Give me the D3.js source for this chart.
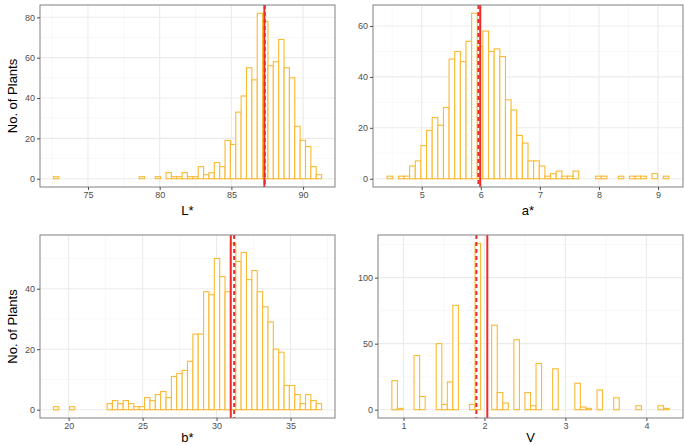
<!DOCTYPE html>
<html>
<head>
<meta charset="utf-8">
<script src="https://cdn.jsdelivr.net/npm/d3@7"></script>
<style>
  body { margin: 0; background: #fff; }
  text { font-family: "Liberation Sans", Arial, sans-serif; }
</style>
</head>
<body>
<svg id="chart" width="685" height="445"></svg>
<script>
// Histogram data, 50 bins per panel (start of first bin, bin width, counts)
var lStart = 72.59, lWidth = 0.374;
var lCounts = [1,0,0,0,0,0,0,0,0,0, 0,0,0,0,0,0,1,0,0,1, 0,3,1,1,3,1,1,6,2,3,
               8,6,19,17,33,41,55,49,82,78, 56,58,69,55,50,26,19,16,6,2];
var lTicksX = [75, 80, 85, 90];
var lTicksY = [0, 20, 40, 60, 80];
var lMean = 87.30, lMedian = 87.33;

var aStart = 4.414, aWidth = 0.0954;
var aCounts = [1,0,1,1,5,7,13,19,24,21, 28,47,50,46,54,65,52,58,50,51,
               48,31,27,17,14,7,7,5,1,2, 3,1,1,3,0,0,0,1,1,0, 0,1,0,1,1,1,0,2,0,1];
var aTicksX = [5, 6, 7, 8, 9];
var aTicksY = [0, 20, 40, 60];
var aMean = 5.99, aMedian = 5.96;

var bStart = 18.97, bWidth = 0.3626;
var bCounts = [1,0,0,1,0,0,0,0,0,0, 2,3,2,3,2,1,1,4,3,5, 6,4,11,12,13,16,25,25,39,38,
               50,44,39,55,49,52,43,46,39,34, 29,20,19,8,8,5,2,5,3,2];
var bTicksX = [20, 25, 30, 35];
var bTicksY = [0, 20, 40];
var bMean = 30.96, bMedian = 31.19;

var vStart = 0.856, vWidth = 0.0685;
var vCounts = [22,1,0,0,41,10,0,0,50,4, 21,79,0,0,4,126,0,0,64,13, 5,0,53,0,13,3,35,0,0,31,
               0,0,0,20,2,1,0,15,0,0, 9,0,0,0,3,0,0,0,3,1];
var vTicksX = [1, 2, 3, 4];
var vTicksY = [0, 50, 100];
var vMean = 2.035, vMedian = 1.90;

var panels = [
  { title: "L*", start: lStart, width: lWidth, counts: lCounts, tx: lTicksX, ty: lTicksY,
    mean: lMean, median: lMedian, box: [40, 335, 5, 187], ylab: true, titleY: 215 },
  { title: "a*", start: aStart, width: aWidth, counts: aCounts, tx: aTicksX, ty: aTicksY,
    mean: aMean, median: aMedian, box: [373, 683, 5, 187], ylab: false, titleY: 215 },
  { title: "b*", start: bStart, width: bWidth, counts: bCounts, tx: bTicksX, ty: bTicksY,
    mean: bMean, median: bMedian, box: [40, 335, 235, 418], ylab: true, titleY: 442 },
  { title: "V", start: vStart, width: vWidth, counts: vCounts, tx: vTicksX, ty: vTicksY,
    mean: vMean, median: vMedian, box: [378, 683, 235, 418], ylab: false, titleY: 442 }
];

var svg = d3.select("#chart");

function minorBreaks(ticks, domain) {
  var step = ticks[1] - ticks[0];
  var out = [];
  for (var t = ticks[0] - step / 2; t <= domain[1]; t += step) {
    if (t >= domain[0]) out.push(t);
  }
  return out;
}

function drawPanel(p) {
  var x0 = p.box[0], x1 = p.box[1], y0 = p.box[2], y1 = p.box[3];
  var lo = p.start, hi = p.start + p.width * p.counts.length;
  var pad = (hi - lo) * 0.05;
  var maxC = d3.max(p.counts);

  var x = d3.scaleLinear().domain([lo - pad, hi + pad]).range([x0, x1]);
  var y = d3.scaleLinear().domain([-maxC * 0.05, maxC * 1.05]).range([y1, y0]);

  var g = svg.append("g");

  // grid lines (minor first, then major)
  var mx = minorBreaks(p.tx, x.domain()), my = minorBreaks(p.ty, y.domain());
  g.selectAll(".mgx").data(mx).enter().append("line")
    .attr("x1", d => x(d)).attr("x2", d => x(d)).attr("y1", y0).attr("y2", y1)
    .attr("stroke", "#f4f4f4").attr("stroke-width", 0.6);
  g.selectAll(".mgy").data(my).enter().append("line")
    .attr("y1", d => y(d)).attr("y2", d => y(d)).attr("x1", x0).attr("x2", x1)
    .attr("stroke", "#f4f4f4").attr("stroke-width", 0.6);
  g.selectAll(".gx").data(p.tx).enter().append("line")
    .attr("x1", d => x(d)).attr("x2", d => x(d)).attr("y1", y0).attr("y2", y1)
    .attr("stroke", "#ebebeb").attr("stroke-width", 1.1);
  g.selectAll(".gy").data(p.ty).enter().append("line")
    .attr("y1", d => y(d)).attr("y2", d => y(d)).attr("x1", x0).attr("x2", x1)
    .attr("stroke", "#ebebeb").attr("stroke-width", 1.1);

  // bars
  g.selectAll(".bar").data(p.counts).enter().append("rect")
    .attr("x", (d, i) => x(p.start + i * p.width))
    .attr("width", x(p.start + p.width) - x(p.start))
    .attr("y", d => y(d))
    .attr("height", d => y(0) - y(d))
    .attr("fill", "#fff")
    .attr("stroke", "#f9b932")
    .attr("stroke-width", 1.1);

  // mean (solid) and median (dashed)
  g.append("line")
    .attr("x1", x(p.mean)).attr("x2", x(p.mean)).attr("y1", y0).attr("y2", y1)
    .attr("stroke", "#ee2a2a").attr("stroke-width", 2);
  g.append("line")
    .attr("x1", x(p.median)).attr("x2", x(p.median)).attr("y1", y0).attr("y2", y1)
    .attr("stroke", "#e62c2c").attr("stroke-width", 2)
    .attr("stroke-dasharray", "4,3");

  // border
  g.append("rect").attr("x", x0).attr("y", y0).attr("width", x1 - x0).attr("height", y1 - y0)
    .attr("fill", "none").attr("stroke", "#808080").attr("stroke-width", 1);

  // axes
  var xAxis = d3.axisBottom(x).tickValues(p.tx).tickSize(3).tickPadding(2).tickFormat(d3.format("d"));
  var yAxis = d3.axisLeft(y).tickValues(p.ty).tickSize(3).tickPadding(2).tickFormat(d3.format("d"));
  var ax = g.append("g").attr("transform", "translate(0," + y1 + ")").call(xAxis);
  var ay = g.append("g").attr("transform", "translate(" + x0 + ",0)").call(yAxis);
  [ax, ay].forEach(function(a) {
    a.select(".domain").remove();
    a.selectAll("line").attr("stroke", "#4d4d4d");
    a.selectAll("text").attr("fill", "#4d4d4d").style("font-size", "9px");
  });

  // titles
  g.append("text").attr("x", (x0 + x1) / 2).attr("y", p.titleY)
    .attr("text-anchor", "middle").style("font-size", "13px").attr("fill", "#000")
    .text(p.title);
  if (p.ylab) {
    g.append("text")
      .attr("transform", "translate(17," + ((y0 + y1) / 2) + ") rotate(-90)")
      .attr("text-anchor", "middle").style("font-size", "13px").attr("fill", "#000")
      .text("No. of Plants");
  }
}

panels.forEach(drawPanel);
</script>
</body>
</html>
